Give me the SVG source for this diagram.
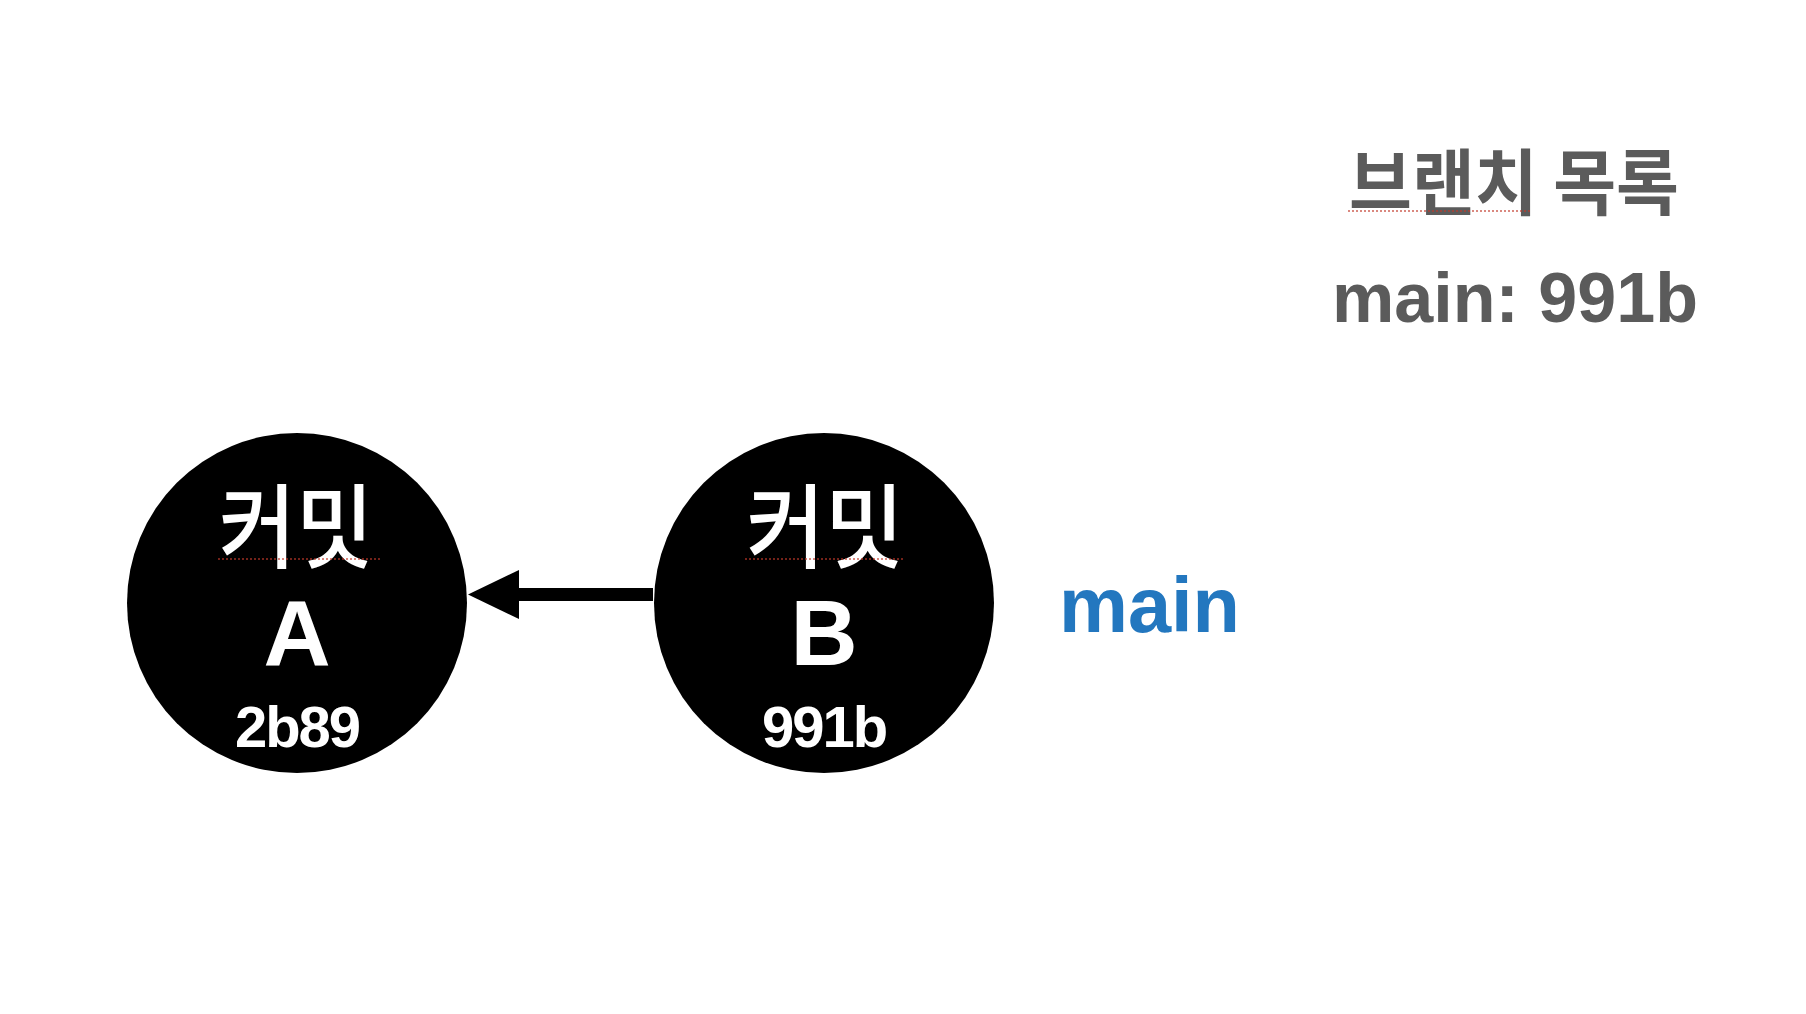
<svg xmlns="http://www.w3.org/2000/svg" width="1806" height="1014" viewBox="0 0 1806 1014">
  <style>
    .node { fill: #000000; }
    .ko { font-family: "Noto Sans CJK KR", "Liberation Sans", sans-serif; font-weight: 500; fill: #ffffff; text-anchor: middle; }
    .big { font-family: "Liberation Sans", Arial, sans-serif; font-weight: bold; fill: #ffffff; text-anchor: middle; }
    .hash { font-family: "Liberation Sans", Arial, sans-serif; font-weight: bold; fill: #ffffff; text-anchor: middle; }
    .gray { fill: #5b5b5b; }
    .branch { font-family: "Liberation Sans", Arial, sans-serif; font-weight: bold; fill: #2377bf; }
    .spell { stroke: #c0392b; stroke-width: 1.5; stroke-dasharray: 2 2; fill: none; opacity: 0.8; }
    .edge { stroke: #000000; stroke-width: 13; fill: none; }
  </style>
  <defs>
    <marker id="arrowhead" markerUnits="userSpaceOnUse" markerWidth="52" markerHeight="50" refX="0" refY="24.5" orient="auto">
      <path d="M0,0 L51,24.5 L0,49 Z" fill="#000000"/>
    </marker>
  </defs>
  <rect x="0" y="0" width="1806" height="1014" fill="#ffffff"/>

  <g id="connectors">
    <line class="edge" x1="653" y1="594.5" x2="519" y2="594.5" marker-end="url(#arrowhead)"/>
  </g>

  <g id="commit-a">
    <circle class="node" cx="297" cy="603" r="170"/>
    <text class="ko" x="296" y="561" font-size="92" textLength="155" lengthAdjust="spacingAndGlyphs">커밋</text>
    <line class="spell" x1="218" y1="559" x2="380" y2="559"/>
    <text class="big" x="297" y="665" font-size="93">A</text>
    <text class="hash" x="297" y="747" font-size="58" letter-spacing="-2">2b89</text>
  </g>

  <g id="commit-b">
    <circle class="node" cx="824" cy="603" r="170"/>
    <text class="ko" x="825" y="561" font-size="92" textLength="158" lengthAdjust="spacingAndGlyphs">커밋</text>
    <line class="spell" x1="745" y1="559" x2="905" y2="559"/>
    <text class="big" x="824" y="665" font-size="93">B</text>
    <text class="hash" x="824" y="747" font-size="58" letter-spacing="-2">991b</text>
  </g>

  <g id="branch-main">
    <text class="branch" x="1059" y="632" font-size="78" textLength="181" lengthAdjust="spacingAndGlyphs">main</text>
  </g>

  <g id="branch-list">
    <text class="gray" x="1349" y="209" font-family="Noto Sans CJK KR, Liberation Sans, sans-serif" font-weight="700" font-size="72" textLength="330" lengthAdjust="spacingAndGlyphs">브랜치 목록</text>
    <line class="spell" x1="1348" y1="211" x2="1532" y2="211"/>
    <text class="gray" x="1332" y="322" font-family="Liberation Sans, Arial, sans-serif" font-weight="bold" font-size="70" textLength="366" lengthAdjust="spacingAndGlyphs">main: 991b</text>
  </g>
</svg>
